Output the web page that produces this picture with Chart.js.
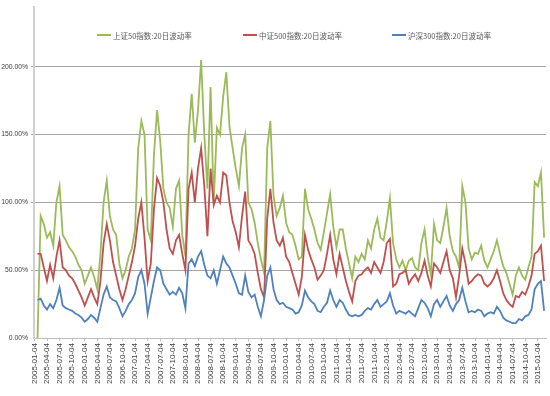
<!DOCTYPE html>
<html>
<head>
<meta charset="utf-8">
<script src="https://cdn.jsdelivr.net/npm/chart.js@4.4.0/dist/chart.umd.min.js"></script>
<style>
  html, body { margin: 0; padding: 0; background: #fff; }
  #wrap { position: relative; width: 550px; height: 396px; }
  .legend-item {
    position: absolute; top: 29px; height: 12px;
    display: flex; align-items: center; white-space: nowrap;
    font: 7.5px "Noto Sans CJK SC", sans-serif; color: #595959;
  }
  .legend-item i { display: inline-block; width: 14px; height: 2px; margin-right: 2px; }
</style>
</head>
<body>
<div id="wrap">
  <canvas id="chart" width="550" height="396"></canvas>
  <div id="legend"></div>
</div>
<script>
/* ----------------------------------------------------
   20-day volatility: SSE 50 / CSI 500 / CSI 300
   one sample every ~quarter/4, 2005-01 .. 2015-03
----------------------------------------------------- */

const quarterLabels = [
  '2005-01-04', '2005-04-04', '2005-07-04', '2005-10-04',
  '2006-01-04', '2006-04-04', '2006-07-04', '2006-10-04',
  '2007-01-04', '2007-04-04', '2007-07-04', '2007-10-04',
  '2008-01-04', '2008-04-04', '2008-07-04', '2008-10-04',
  '2009-01-04', '2009-04-04', '2009-07-04', '2009-10-04',
  '2010-01-04', '2010-04-04', '2010-07-04', '2010-10-04',
  '2011-01-04', '2011-04-04', '2011-07-04', '2011-10-04',
  '2012-01-04', '2012-04-04', '2012-07-04', '2012-10-04',
  '2013-01-04', '2013-04-04', '2013-07-04', '2013-10-04',
  '2014-01-04', '2014-04-04', '2014-07-04', '2014-10-04',
  '2015-01-04',
];

const seriesNames = ['上证50指数:20日波动率', '中证500指数:20日波动率', '沪深300指数:20日波动率'];
const yTicks = [0, 50, 100, 150, 200];

// values in %
const sz50 = [
  0, 90, 84, 74, 78, 68, 100, 112, 76, 72,
  67, 64, 60, 54, 50, 40, 46, 52, 45, 36,
  62, 100, 116, 90, 80, 76, 55, 44, 50, 60,
  66, 80, 140, 160, 150, 80, 72, 135, 168, 145,
  110, 100, 96, 82, 110, 116, 76, 60, 150, 180,
  144, 168, 205, 150, 110, 185, 100, 155, 150, 178,
  196, 156, 140, 125, 112, 140, 150, 100, 95, 85,
  70, 58, 48, 140, 160, 105, 90, 96, 105, 85,
  78, 76, 68, 58, 60, 110, 95, 88, 80, 70,
  65, 78, 92, 106, 82, 67, 80, 80, 66, 55,
  44, 60, 56, 62, 58, 72, 66, 80, 88, 74,
  72, 86, 103, 70, 58, 52, 57, 50, 57, 59,
  52, 50, 70, 80, 60, 47, 84, 72, 70, 82,
  96, 75, 64, 60, 52, 112, 100, 66, 58, 63,
  62, 68, 57, 52, 58, 64, 72, 62, 53, 48,
  40, 32, 46, 52, 46, 43, 52, 60, 115, 112,
  122, 74,
];

const zz500 = [
  62, 62, 52, 42, 54, 44, 60, 72, 52, 50,
  46, 44, 40, 35, 30, 24, 30, 36, 30, 25,
  42, 70, 84, 72, 56, 46, 36, 28, 36, 46,
  56, 68, 88, 100, 74, 42, 55, 95, 118, 112,
  100, 80, 66, 62, 72, 76, 62, 50, 110, 122,
  100, 125, 140, 112, 75, 125, 98, 105, 100, 122,
  120, 100, 86, 78, 67, 90, 108, 72, 68, 62,
  48, 36, 30, 88, 110, 85, 72, 68, 74, 60,
  56, 48, 40, 32, 45, 76, 65, 58, 52, 43,
  46, 50, 62, 76, 58, 47, 62, 52, 42, 34,
  27, 42, 46, 47, 50, 52, 48, 56, 52, 48,
  56, 70, 73, 38, 40, 47, 48, 50, 40, 44,
  47, 42, 48, 57, 46, 38, 55, 52, 48, 56,
  64, 50, 44, 30, 46, 66, 55, 40, 42, 45,
  47, 46, 40, 38, 40, 44, 50, 42, 33, 28,
  25, 23, 31, 30, 34, 32, 38, 46, 62, 64,
  68, 42,
];

const hs300 = [
  28, 29, 24, 21, 25, 22, 28, 37, 24, 22,
  21, 20, 18, 17, 15, 12, 14, 17, 15, 12,
  22, 32, 38, 30, 28, 27, 22, 16, 20, 25,
  28, 33, 45, 50, 40, 18, 30, 42, 52, 50,
  40, 36, 32, 34, 32, 37, 33, 22, 55, 58,
  53, 60, 64, 54, 46, 44, 50, 40, 50, 60,
  55, 52, 46, 40, 33, 32, 46, 34, 30, 32,
  23, 16, 28, 46, 52, 36, 28, 25, 26, 23,
  22, 21, 18, 19, 24, 35, 30, 27, 25, 20,
  19, 23, 26, 35, 28, 23, 28, 26, 21, 17,
  16, 17, 16, 17, 20, 22, 21, 25, 28, 23,
  25, 27, 33, 24, 18, 20, 19, 18, 20, 18,
  16, 22, 28, 26, 22, 16, 25, 28, 23, 27,
  31, 24, 20, 25, 28, 37, 27, 19, 20, 19,
  21, 20, 16, 18, 19, 18, 23, 20, 15, 13,
  12, 11, 11, 14, 13, 16, 17, 21, 36, 40,
  42, 20,
];

const colors = ['#9bbb59', '#c0504d', '#4f81bd'];
const PER_Q = 4;        // samples per quarter
const START_Q = 0.24;   // first sample, in quarters after 2005-01-04

const toPoints = (vals) => vals.map((v, i) => ({ x: START_Q + i / PER_Q, y: v }));

// legend (sits inside the plot, Excel style)
const legendLeft = [97, 243, 392];
document.getElementById('legend').innerHTML = seriesNames.map((n, k) =>
  `<div class="legend-item" style="left:${legendLeft[k]}px"><i style="background:${colors[k]}"></i>${n}</div>`
).join('');

const tickFont = { family: '"Liberation Sans", Arial, sans-serif', size: 8 };

new Chart(document.getElementById('chart'), {
  type: 'line',
  data: {
    datasets: [
      { label: seriesNames[0], data: toPoints(sz50),  borderColor: colors[0], order: 3 },
      { label: seriesNames[1], data: toPoints(zz500), borderColor: colors[1], order: 2 },
      { label: seriesNames[2], data: toPoints(hs300), borderColor: colors[2], order: 1 },
    ],
  },
  options: {
    responsive: false,
    animation: false,
    layout: { padding: { top: 3, right: 4, left: 0, bottom: 0 } },
    elements: {
      point: { radius: 0 },
      line: { borderWidth: 1.8, tension: 0 },
    },
    plugins: { legend: { display: false }, tooltip: { enabled: false } },
    scales: {
      x: {
        type: 'linear',
        min: -0.04,
        max: 40.64,
        afterBuildTicks: (s) => { s.ticks = quarterLabels.map((_, k) => ({ value: k })); },
        afterFit: (s) => { s.height = 58; },
        grid: { drawOnChartArea: false, tickLength: 3, color: '#bfbfbf' },
        border: { color: '#bfbfbf', width: 1 },
        ticks: {
          autoSkip: false, minRotation: 90, maxRotation: 90, padding: 2,
          font: tickFont, color: '#404040',
          callback: (v) => quarterLabels[Math.round(v)],
        },
      },
      y: {
        min: 0,
        max: 244,
        afterBuildTicks: (s) => { s.ticks = yTicks.map(v => ({ value: v })); },
        afterFit: (s) => { s.width = 34; },
        grid: {
          color: (c) => c.tick && c.tick.value === 0 ? 'rgba(0,0,0,0)' : '#a6a6a6',
          tickLength: 3,
        },
        border: { color: '#d0d0d0', width: 2 },
        ticks: {
          padding: 3,
          font: { family: tickFont.family, size: 6.8 }, color: '#404040',
          callback: (v) => v.toFixed(2) + '%',
        },
      },
    },
  },
});
</script>
</body>
</html>
